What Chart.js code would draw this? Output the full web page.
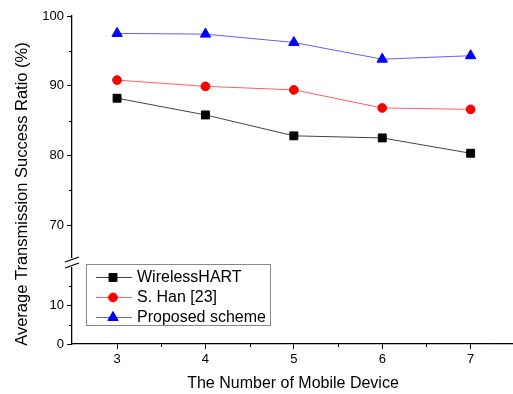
<!DOCTYPE html>
<html>
<head>
<meta charset="utf-8">
<script src="https://cdn.jsdelivr.net/npm/chart.js@4/dist/chart.umd.min.js"></script>
<style>
  html, body { margin: 0; padding: 0; background: #fff; overflow: hidden; }
  #wrap { width: 513px; height: 394px; position: relative; }
  canvas { display: block; }
</style>
</head>
<body>
<div id="wrap"><canvas id="chart"></canvas></div>
<script>
const devices = [3, 4, 5, 6, 7];
const wirelessHart = [88.2, 85.8, 82.8, 82.5, 80.3];
const sHan = [90.8, 89.9, 89.4, 86.8, 86.6];
const proposed = [97.5, 97.4, 96.2, 93.8, 94.3];
const upperTicks = [70, 80, 90, 100];
const lowerTicks = [0, 10];
const seriesNames = ["WirelessHART", "S. Han [23]", "Proposed scheme"];

Chart.defaults.font.family = "'Liberation Sans', Arial, sans-serif";
Chart.defaults.color = "#000";

const toPoints = vals => vals.map((v, i) => ({ x: devices[i], y: v }));

const styles = [
  { line: "#444444", fill: "#000000", shape: "rect", r: 5.6 },
  { line: "#ff6060", fill: "#ff0000", shape: "circle", r: 4.4 },
  { line: "#6060ff", fill: "#0000ff", shape: "triangle", r: 6 }
];

const datasets = [wirelessHart, sHan, proposed].map((vals, i) => ({
  label: seriesNames[i],
  data: toPoints(vals),
  yAxisID: "y",
  borderColor: styles[i].line,
  borderWidth: 1,
  backgroundColor: styles[i].fill,
  pointBackgroundColor: styles[i].fill,
  pointBorderColor: styles[i].fill,
  pointBorderWidth: 1,
  pointStyle: styles[i].shape,
  pointRadius: styles[i].r,
  tension: 0
}));

const AXIS_W = 1.3;

// minor ticks, axis break, titles, legend
const extras = {
  id: "extras",
  afterDraw(chart) {
    const ctx = chart.ctx;
    const x = chart.scales.x, yU = chart.scales.y, yL = chart.scales.yLow;
    const left = chart.chartArea.left, bottom = chart.chartArea.bottom;
    ctx.save();

    // clear the right end of the axis, then run it on to the edge
    const clearFrom = x.getPixelForValue(7) + 20;
    ctx.fillStyle = "#fff";
    ctx.fillRect(clearFrom, bottom - 10, 80, 20);
    const axisY = Math.round(bottom - AXIS_W / 2) + AXIS_W / 2;
    ctx.strokeStyle = "#000";
    ctx.lineWidth = AXIS_W;
    ctx.beginPath();
    ctx.moveTo(clearFrom, axisY);
    ctx.lineTo(chart.width, axisY);
    ctx.stroke();

    ctx.lineWidth = 1;
    ctx.beginPath();
    [75, 85, 95].forEach(v => {
      const p = Math.round(yU.getPixelForValue(v)) + 0.5;
      ctx.moveTo(left - 3, p); ctx.lineTo(left, p);
    });
    [5, 15].forEach(v => {
      const p = Math.round(yL.getPixelForValue(v)) + 0.5;
      ctx.moveTo(left - 3, p); ctx.lineTo(left, p);
    });
    [3.5, 4.5, 5.5, 6.5].forEach(v => {
      const p = Math.round(x.getPixelForValue(v)) + 0.5;
      ctx.moveTo(p, bottom); ctx.lineTo(p, bottom + 3);
    });
    ctx.stroke();

    // axis break
    const mid = yU.bottom;
    ctx.fillStyle = "#fff";
    ctx.fillRect(left - 3, mid - 4.5, 6, 9);
    ctx.lineWidth = AXIS_W;
    ctx.beginPath();
    ctx.moveTo(left - 7, mid - 0.5); ctx.lineTo(left + 7, mid - 5.5);
    ctx.moveTo(left - 7, mid + 5.5); ctx.lineTo(left + 7, mid + 0.5);
    ctx.stroke();

    // axis titles
    ctx.fillStyle = "#000";
    ctx.font = "16px 'Liberation Sans', Arial, sans-serif";
    ctx.textAlign = "center";
    ctx.textBaseline = "middle";
    ctx.fillText("The Number of Mobile Device", 293, 384);
    ctx.save();
    ctx.translate(22, 194);
    ctx.rotate(-Math.PI / 2);
    ctx.font = "16.5px 'Liberation Sans', Arial, sans-serif";
    ctx.fillText("Average Transmission Success Ratio (%)", 0, 0);
    ctx.restore();

    // legend box
    const bx = 86.5, by = 264.5, bw = 184, bh = 61;
    ctx.fillStyle = "#fff";
    ctx.fillRect(bx, by, bw, bh);
    ctx.strokeStyle = "#888";
    ctx.lineWidth = 1;
    ctx.strokeRect(bx, by, bw, bh);
    ctx.textAlign = "left";
    ctx.font = "16px 'Liberation Sans', Arial, sans-serif";
    styles.forEach((s, i) => {
      const ly = 277 + i * 20;
      ctx.strokeStyle = s.line;
      ctx.beginPath();
      ctx.moveTo(96, ly + 0.5); ctx.lineTo(132, ly + 0.5);
      ctx.stroke();
      ctx.fillStyle = s.fill;
      ctx.strokeStyle = s.fill;
      Chart.helpers.drawPoint(ctx, { pointStyle: s.shape, radius: s.r, borderWidth: 1 }, 113, ly + 0.5);
      ctx.fillStyle = "#000";
      ctx.fillText(seriesNames[i], 137, ly + 1);
    });
    ctx.restore();
  }
};

new Chart(document.getElementById("chart"), {
  type: "line",
  data: { datasets },
  plugins: [extras],
  options: {
    responsive: true,
    maintainAspectRatio: false,
    animation: false,
    layout: { padding: { top: 16, right: 0, left: 0, bottom: 0 } },
    plugins: { legend: { display: false }, tooltip: { enabled: false } },
    scales: {
      x: {
        type: "linear",
        min: 2.49,
        max: 7.4,
        afterBuildTicks: s => { s.ticks = devices.map(v => ({ value: v })); },
        afterFit: s => { s.height = 50; },
        border: { color: "#000", width: AXIS_W },
        grid: { drawOnChartArea: false, tickLength: 5, color: "#000" },
        ticks: { font: { size: 13 }, padding: 3, maxRotation: 0 }
      },
      yLow: {
        type: "linear",
        position: "left",
        stack: "v",
        stackWeight: 81.5,
        weight: 0,
        min: 0,
        max: 20.9,
        afterBuildTicks: s => { s.ticks = lowerTicks.map(v => ({ value: v })); },
        afterFit: s => { s.width = 72; },
        border: { color: "#000", width: AXIS_W },
        grid: { drawOnChartArea: false, tickLength: 5, color: "#000" },
        ticks: { font: { size: 13 }, padding: 3 }
      },
      y: {
        type: "linear",
        position: "left",
        stack: "v",
        stackWeight: 246.5,
        weight: 1,
        min: 64.62,
        max: 100,
        afterBuildTicks: s => { s.ticks = upperTicks.map(v => ({ value: v })); },
        afterFit: s => { s.width = 72; },
        border: { color: "#000", width: AXIS_W },
        grid: { drawOnChartArea: false, tickLength: 5, color: "#000" },
        ticks: { font: { size: 13 }, padding: 3 }
      }
    }
  }
});
</script>
</body>
</html>
